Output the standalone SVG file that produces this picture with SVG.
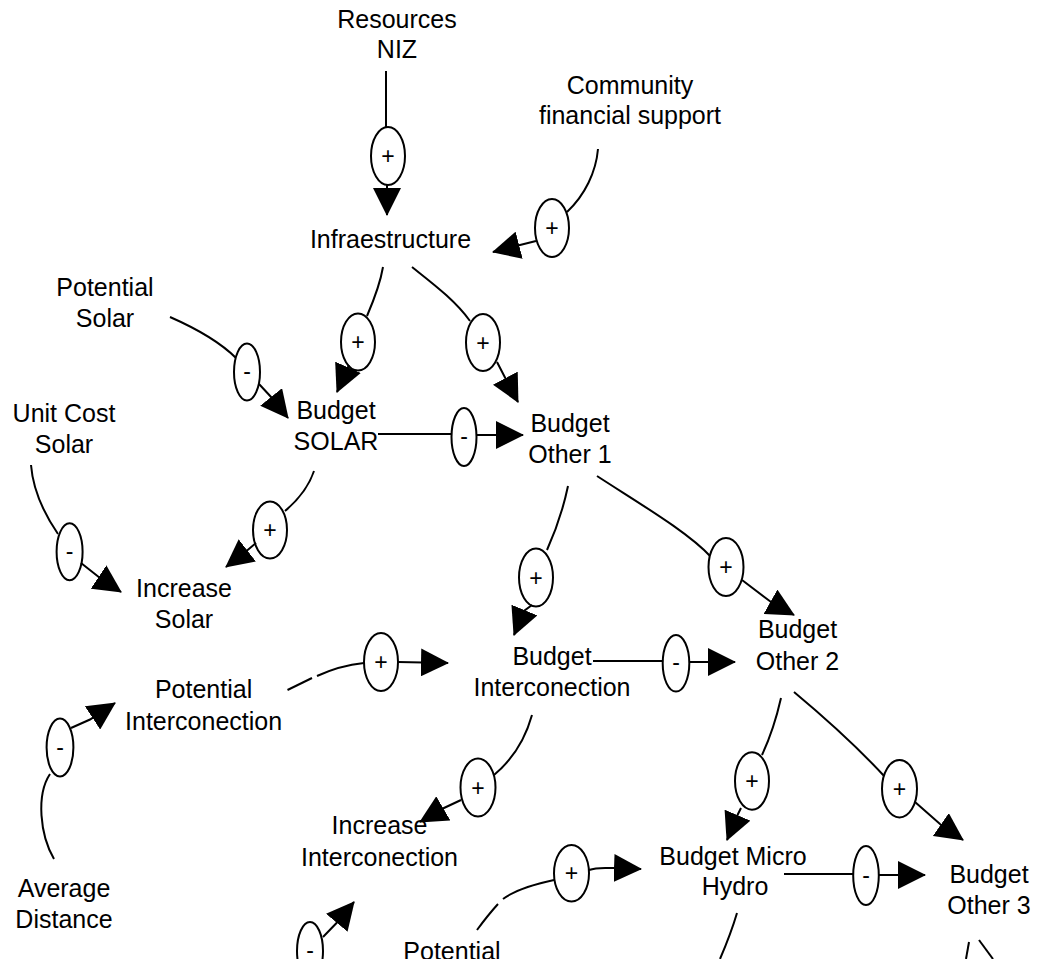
<svg xmlns="http://www.w3.org/2000/svg" width="1038" height="959" viewBox="0 0 1038 959">
  <style>
    .lbl { font-family: "Liberation Sans", Arial, sans-serif; font-size: 25px; fill: #000; text-anchor: middle; }
    .sign { font-family: "Liberation Sans", Arial, sans-serif; font-size: 23px; fill: #000; text-anchor: middle; }
    .link { fill: none; stroke: #000; stroke-width: 2; stroke-linejoin: round; }
    .tail { fill: none; stroke: #000; stroke-width: 2; marker-end: url(#head); }
    .pol { fill: #fff; stroke: #000; stroke-width: 2; }
  </style>
  <defs>
    <marker id="head" viewBox="0 0 28 28" refX="27" refY="14" markerWidth="28" markerHeight="28" markerUnits="userSpaceOnUse" orient="auto">
      <path d="M0,0 L28,14 L0,28 Z" fill="#000"/>
    </marker>
  </defs>
  <rect width="1038" height="959" fill="#fff"/>

  <!-- causal links: stem to the polarity oval, oval, then tail with arrowhead -->
  <g id="connectors">
    <!-- Resources NIZ -> Infraestructure -->
    <g id="e-resources-infra">
      <path class="link" d="M386,71 L386,127"/>
      <ellipse class="pol" cx="388" cy="156" rx="17" ry="29"/>
      <text class="sign" x="388" y="164">+</text>
      <path class="tail" d="M387,185 L387,188 L387,215"/>
    </g>
    <!-- Community financial support -> Infraestructure -->
    <g id="e-community-infra">
      <path class="link" d="M598,149 C596,172 585,195 567,212"/>
      <ellipse class="pol" cx="552" cy="228" rx="17" ry="29"/>
      <text class="sign" x="552" y="236">+</text>
      <path class="tail" d="M536,241 L520,245 L493,252"/>
    </g>
    <!-- Infraestructure -> Budget SOLAR -->
    <g id="e-infra-solar">
      <path class="link" d="M383,267 C380,285 373,302 367,316"/>
      <ellipse class="pol" cx="358" cy="342" rx="17" ry="28.5"/>
      <text class="sign" x="358" y="350">+</text>
      <path class="tail" d="M349,365 L337,392"/>
    </g>
    <!-- Infraestructure -> Budget Other 1 -->
    <g id="e-infra-other1">
      <path class="link" d="M412,267 C432,283 455,300 470,321"/>
      <ellipse class="pol" cx="483" cy="342.5" rx="17" ry="28.5"/>
      <text class="sign" x="483" y="350.5">+</text>
      <path class="tail" d="M497,362 L505,377.5 L518,402"/>
    </g>
    <!-- Potential Solar -> Budget SOLAR -->
    <g id="e-potsolar-solar">
      <path class="link" d="M170,317 C195,328 220,342 236,358"/>
      <ellipse class="pol" cx="247" cy="372" rx="13" ry="28.5"/>
      <text class="sign" x="247" y="379">-</text>
      <path class="tail" d="M259,384 L272,398 L288,418"/>
    </g>
    <!-- Budget SOLAR -> Budget Other 1 -->
    <g id="e-solar-other1">
      <path class="link" d="M378,434 L452,434"/>
      <ellipse class="pol" cx="464" cy="437" rx="12.5" ry="29"/>
      <text class="sign" x="464" y="444">-</text>
      <path class="tail" d="M476.5,435 L523,435"/>
    </g>
    <!-- Budget SOLAR -> Increase Solar -->
    <g id="e-solar-incsolar">
      <path class="link" d="M314,471 C309,486 298,500 285,511"/>
      <ellipse class="pol" cx="270" cy="530" rx="17" ry="28.5"/>
      <text class="sign" x="270" y="538">+</text>
      <path class="tail" d="M256,543 L245.6,551.7 L226,567"/>
    </g>
    <!-- Unit Cost Solar -> Increase Solar -->
    <g id="e-unitcost-incsolar">
      <path class="link" d="M31,465 C33,490 45,515 58,534"/>
      <ellipse class="pol" cx="69.6" cy="551.7" rx="13" ry="28.5"/>
      <text class="sign" x="69.6" y="558.7">-</text>
      <path class="tail" d="M81,563 L100,578 L121,592"/>
    </g>
    <!-- Budget Other 1 -> Budget Interconection -->
    <g id="e-other1-inter">
      <path class="link" d="M568,486 C563,510 556,530 547,550"/>
      <ellipse class="pol" cx="536" cy="577.5" rx="17" ry="29"/>
      <text class="sign" x="536" y="585.5">+</text>
      <path class="tail" d="M532,605 L524,611 L514,635"/>
    </g>
    <!-- Budget Other 1 -> Budget Other 2 -->
    <g id="e-other1-other2">
      <path class="link" d="M597,476 C640,504 688,532 711,557"/>
      <ellipse class="pol" cx="726" cy="567" rx="17.5" ry="29"/>
      <text class="sign" x="726" y="575">+</text>
      <path class="tail" d="M742,580 L771,602 L794,615"/>
    </g>
    <!-- Budget Interconection -> Budget Other 2 -->
    <g id="e-inter-other2">
      <path class="link" d="M593,661 L663,661"/>
      <ellipse class="pol" cx="676" cy="663.3" rx="13.3" ry="28.3"/>
      <text class="sign" x="676" y="670.3">-</text>
      <path class="tail" d="M689,662 L735,662"/>
    </g>
    <!-- Budget Other 2 -> Budget Micro Hydro -->
    <g id="e-other2-micro">
      <path class="link" d="M781,698 C776,720 769,740 762,755"/>
      <ellipse class="pol" cx="752" cy="781" rx="17" ry="28.7"/>
      <text class="sign" x="752" y="789">+</text>
      <path class="tail" d="M741,808 L738,814 L727,840"/>
    </g>
    <!-- Budget Other 2 -> Budget Other 3 -->
    <g id="e-other2-other3">
      <path class="link" d="M794,692 C830,722 862,752 885,777"/>
      <ellipse class="pol" cx="899.5" cy="788.7" rx="17.5" ry="28.7"/>
      <text class="sign" x="899.5" y="796.7">+</text>
      <path class="tail" d="M915,802 L940,824 L963,840"/>
    </g>
    <!-- Budget Micro Hydro -> Budget Other 3 -->
    <g id="e-micro-other3">
      <path class="link" d="M784,874 L853,874"/>
      <ellipse class="pol" cx="866" cy="875.5" rx="12.8" ry="29.5"/>
      <text class="sign" x="866" y="882.5">-</text>
      <path class="tail" d="M879,875 L925,875"/>
    </g>
    <!-- Potential (hydro) -> Budget Micro Hydro -->
    <g id="e-pothydro-micro">
      <path class="link" d="M477,930 Q488,915 498,904"/>
      <path class="link" d="M503,899 C515,890 535,884 554,880"/>
      <ellipse class="pol" cx="571.5" cy="873.3" rx="17.5" ry="28.3"/>
      <text class="sign" x="571.5" y="881.3">+</text>
      <path class="tail" d="M589,870 C597,867 605,868 613,868 L641,869"/>
    </g>
    <!-- Potential Interconection -> Budget Interconection -->
    <g id="e-potinter-inter">
      <path class="link" d="M287.5,690 L312,678"/>
      <path class="link" d="M317,676 C330,670 345,665 364,663"/>
      <ellipse class="pol" cx="381" cy="662" rx="17" ry="29"/>
      <text class="sign" x="381" y="670">+</text>
      <path class="tail" d="M398,662 L448,663"/>
    </g>
    <!-- Average Distance -> Potential Interconection -->
    <g id="e-avgdist-potinter">
      <path class="link" d="M54,859 C40,835 36,795 50,774"/>
      <ellipse class="pol" cx="60" cy="747.5" rx="13.4" ry="29"/>
      <text class="sign" x="60" y="754.5">-</text>
      <path class="tail" d="M71,728 L90,719.5 L115,703"/>
    </g>
    <!-- Budget Interconection -> Increase Interconection -->
    <g id="e-inter-incinter">
      <path class="link" d="M532,715 C525,740 512,760 494,775"/>
      <ellipse class="pol" cx="478" cy="787.5" rx="17.5" ry="29"/>
      <text class="sign" x="478" y="795.5">+</text>
      <path class="tail" d="M461,800 L444,808 L420,822"/>
    </g>
    <!-- link into Increase Interconection from below -->
    <g id="e-below-incinter">
      <ellipse class="pol" cx="310" cy="951" rx="13" ry="29"/>
      <text class="sign" x="310" y="958">-</text>
      <path class="tail" d="M323,937 L337,922.5 L354,902"/>
    </g>
    <!-- links leaving the bottom edge -->
    <g id="e-micro-down">
      <path class="link" d="M737,913 C732,930 726,945 720,959"/>
    </g>
    <g id="e-other3-down">
      <path class="link" d="M969,942 L966,959"/>
      <path class="link" d="M979,940 L993,959"/>
    </g>
  </g>

  <!-- variables -->
  <g id="n-resources"><text class="lbl" x="397" y="28">Resources</text><text class="lbl" x="397" y="58">NIZ</text></g>
  <g id="n-community"><text class="lbl" x="630" y="94">Community</text><text class="lbl" x="630" y="124">financial support</text></g>
  <g id="n-infra"><text class="lbl" x="390.5" y="248">Infraestructure</text></g>
  <g id="n-potsolar"><text class="lbl" x="105" y="296">Potential</text><text class="lbl" x="105" y="327">Solar</text></g>
  <g id="n-unitcost"><text class="lbl" x="64" y="422">Unit Cost</text><text class="lbl" x="64" y="453">Solar</text></g>
  <g id="n-budsolar"><text class="lbl" x="336" y="419">Budget</text><text class="lbl" x="336" y="450">SOLAR</text></g>
  <g id="n-other1"><text class="lbl" x="570" y="432">Budget</text><text class="lbl" x="570" y="463">Other 1</text></g>
  <g id="n-incsolar"><text class="lbl" x="184" y="597">Increase</text><text class="lbl" x="184" y="628">Solar</text></g>
  <g id="n-budinter"><text class="lbl" x="552" y="665">Budget</text><text class="lbl" x="552" y="696">Interconection</text></g>
  <g id="n-other2"><text class="lbl" x="797.5" y="638">Budget</text><text class="lbl" x="797.5" y="670">Other 2</text></g>
  <g id="n-potinter"><text class="lbl" x="203.6" y="698">Potential</text><text class="lbl" x="203.6" y="730">Interconection</text></g>
  <g id="n-avgdist"><text class="lbl" x="64" y="897">Average</text><text class="lbl" x="64" y="928">Distance</text></g>
  <g id="n-incinter"><text class="lbl" x="379.5" y="834">Increase</text><text class="lbl" x="379.5" y="866">Interconection</text></g>
  <g id="n-micro"><text class="lbl" x="733" y="865">Budget Micro</text><text class="lbl" x="735" y="895">Hydro</text></g>
  <g id="n-other3"><text class="lbl" x="989" y="883">Budget</text><text class="lbl" x="989" y="914">Other 3</text></g>
  <g id="n-pothydro"><text class="lbl" x="452" y="960">Potential</text></g>
</svg>
